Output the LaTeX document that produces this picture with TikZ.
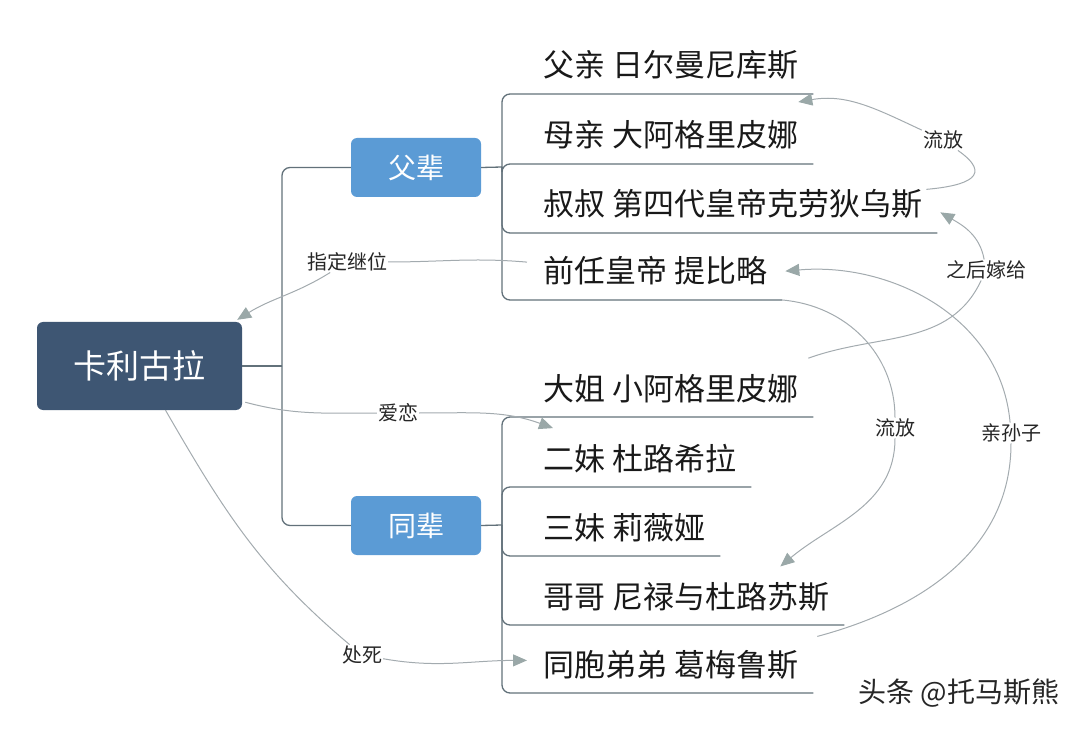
\documentclass[tikz,border=0pt]{standalone}
\usepackage{fontspec}
\setmainfont{Noto Sans CJK SC}
\usetikzlibrary{arrows.meta}
\definecolor{rootblue}{HTML}{3E5673}
\definecolor{topicblue}{HTML}{5B9BD5}
\definecolor{branchgray}{HTML}{62717A}
\definecolor{relgray}{HTML}{A3ABAF}
\definecolor{tipgray}{HTML}{9AA8A8}

\begin{document}
\begin{tikzpicture}[x=1pt, y=1pt, >={Triangle[length=14pt,width=12pt,color=tipgray]},
    root/.style={fill=rootblue,rounded corners=6pt,text=white,minimum width=205pt,minimum height=88pt,font=\fontsize{33}{33}\selectfont},
    topic/.style={fill=topicblue,rounded corners=6pt,text=white,minimum width=130pt,minimum height=59pt,font=\fontsize{28}{28}\selectfont},
    item/.style={anchor=base west,inner sep=0pt,text=black!90,font=\fontsize{31}{31}\selectfont},
    branch/.style={draw=branchgray,line width=1.3pt,rounded corners=8pt},
    rel/.style={draw=relgray,line width=1pt,->},
    tag/.style={fill=white,inner sep=1pt,text=black!85,font=\fontsize{20}{20}\selectfont}]
  \useasboundingbox (0,0) rectangle (1080,-730);

  \node[root] at (139.5,-366) (kl) {卡利古拉};
  \node[topic] at (416,-167.5) (fb) {父辈};
  \node[topic] at (416,-525.5) (tb) {同辈};
  \coordinate (rj) at (282,-366);
  \coordinate (fj) at (502,-167);
  \coordinate (tj) at (502,-525);

  \node[item] at (543,-77) (m1) {父亲 日尔曼尼库斯};
  \node[item] at (543,-147) (m2) {母亲 大阿格里皮娜};
  \node[item] at (543,-216) (m3) {叔叔 第四代皇帝克劳狄乌斯};
  \node[item] at (543,-283) (m4) {前任皇帝 提比略};
  \node[item] at (543,-400) (m5) {大姐 小阿格里皮娜};
  \node[item] at (543,-470) (m6) {二妹 杜路希拉};
  \node[item] at (543,-539) (m7) {三妹 莉薇娅};
  \node[item] at (543,-608) (m8) {哥哥 尼禄与杜路苏斯};
  \node[item] at (543,-676) (m9) {同胞弟弟 葛梅鲁斯};

  \draw[branch] (kl.east) -- (rj);
  \draw[branch] (rj) |- (fb.west);
  \draw[branch] (rj) |- (tb.west);
  \draw[branch] (fb.east) -- (fj);
  \draw[branch] (tb.east) -- (tj);
  \draw[branch] (fj) |- ([shift={(15,-17)}]m1.base east) coordinate (u1);
  \draw[branch] (fj) |- ([shift={(15,-17)}]m2.base east) coordinate (u2);
  \draw[branch] (fj) |- ([shift={(15,-17)}]m3.base east) coordinate (u3);
  \draw[branch] (fj) |- ([shift={(15,-17)}]m4.base east) coordinate (u4);
  \draw[branch] (tj) |- ([shift={(15,-17)}]m5.base east) coordinate (u5);
  \draw[branch] (tj) |- ([shift={(15,-17)}]m6.base east) coordinate (u6);
  \draw[branch] (tj) |- ([shift={(15,-17)}]m7.base east) coordinate (u7);
  \draw[branch] (tj) |- ([shift={(15,-17)}]m8.base east) coordinate (u8);
  \draw[branch] (tj) |- ([shift={(15,-17)}]m9.base east) coordinate (u9);

  \node[tag] at (347,-262) (la) {指定继位};
  \node[tag] at (398,-413) (lb) {爱恋};
  \node[tag] at (362,-655) (lc) {处死};
  \node[tag] at (943,-140) (ld) {流放};
  \node[tag] at (986,-270) (le) {之后嫁给};
  \node[tag] at (895,-428) (lf) {流放};
  \node[tag] at (1011,-433) (lg) {亲孙子};

  \draw[rel] ([shift={(-16,9)}]m4.west) to[out=175,in=0] (la) to[out=212,in=32] ([shift={(-5,2)}]kl.north east);
  \draw[rel] ([shift={(3,8)}]kl.south east) to[out=-15,in=180] (lb) to[out=0,in=160] ([shift={(10,30)}]m6.west);
  \draw[rel] ([xshift=26]kl.south) to[out=-60,in=140] (lc) to[out=-10,in=180] ([shift={(-16,4)}]m9.west);
  \draw[rel] ([shift={(4,15)}]m3.east) to[out=5,in=-35,looseness=2.2] (ld) to[out=155,in=10] ([shift={(-15,-8)}]u1);
  \draw[rel] ([shift={(10,30)}]m5.east) to[out=20,in=-115] (le) to[out=100,in=-30] ([shift={(18,-8)}]m3.east);
  \draw[rel] (u4) to[out=-5,in=90] (lf) to[out=-90,in=40] ([shift={(-49,30)}]m8.east);
  \draw[rel] ([shift={(19,28)}]m9.east) to[out=15,in=-90] (lg) to[out=95,in=5] ([shift={(18,0)}]m4.east);

  \node[text=black!85,font=\fontsize{28}{28}\selectfont] at (959,-693) (wm) {头条 @托马斯熊};
\end{tikzpicture}
\end{document}
